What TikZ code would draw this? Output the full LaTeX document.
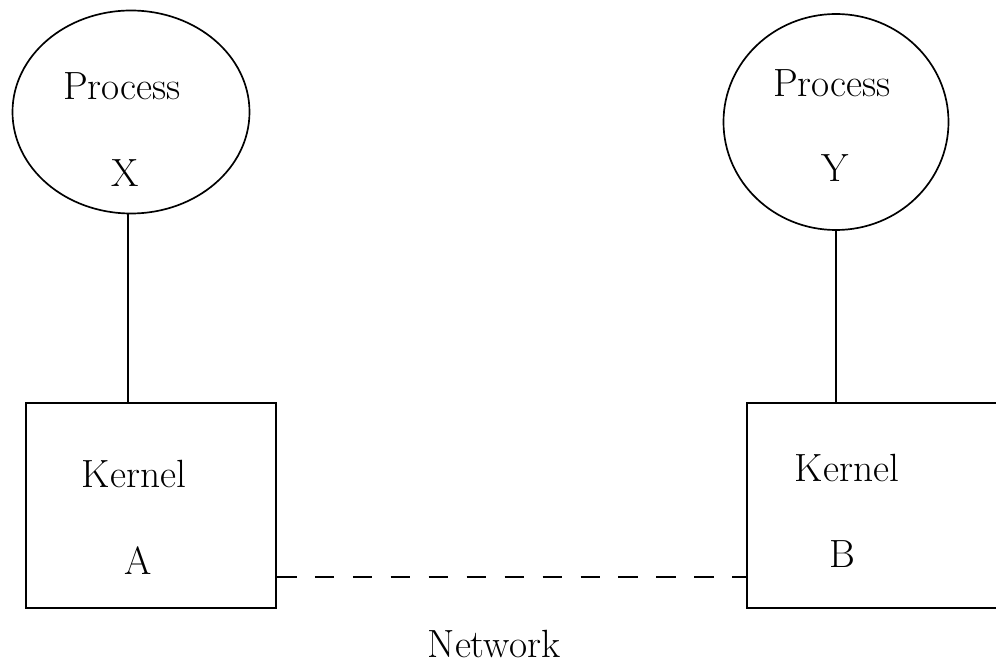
\documentclass[tikz,border=0pt]{standalone}
\usepackage{tikz}
\usetikzlibrary{positioning,shapes.geometric}

\begin{document}
\begin{tikzpicture}[font=\fontsize{28}{34}\selectfont,
  proc/.style={draw,ellipse,line width=1.2pt,inner sep=0pt},
  kern/.style={draw,rectangle,line width=1.2pt,inner sep=0pt},
  lbl/.style={anchor=base,inner sep=0pt},
  link/.style={line width=1.1pt},
  net/.style={line width=1.1pt,dash pattern=on 14pt off 13pt}]

% ---------------- page ------------------------------------------------------
\useasboundingbox (0,0) rectangle (24.9,16.675);

% ---------------- the two processes -----------------------------------------
\node[proc,minimum width=5.925cm,minimum height=5.075cm] (procX) at (3.275,13.875) {};
\node[proc,minimum width=5.625cm,minimum height=5.4cm] (procY) at (20.9,13.625) {};
\node[lbl] (procXname) at (3.05,14.175) {Process};
\node[lbl] (procXid) at (3.125,12.0) {X};
\node[lbl] (procYname) at (20.8,14.25) {Process};
\node[lbl] (procYid) at (20.875,12.125) {Y};

% ---------------- the two kernels (B runs off the right edge) ---------------
\node[kern,minimum width=6.25cm,minimum height=5.125cm] (kerA) at (3.775,4.0375) {};
\node[kern,minimum width=6.575cm,minimum height=5.125cm] (kerB) at (21.9625,4.0375) {};
\node[lbl] (kerAname) at (3.35,4.475) {Kernel};
\node[lbl] (kerAid) at (3.45,2.3) {A};
\node[lbl] (kerBname) at (21.175,4.625) {Kernel};
\node[lbl] (kerBid) at (21.05,2.5) {B};

% ---------------- process to kernel -----------------------------------------
\draw[link] (procX.south -| 3.2,0) -- (kerA.north -| 3.2,0);
\draw[link] (procY.south) -- (procY.south |- kerB.north);

% ---------------- network between the kernels -------------------------------
\draw[net] (kerA.east |- 0,2.25) -- (kerB.west |- 0,2.25);
\node[lbl] (netname) at (12.35,0.25) {Network};

\end{tikzpicture}
\end{document}
